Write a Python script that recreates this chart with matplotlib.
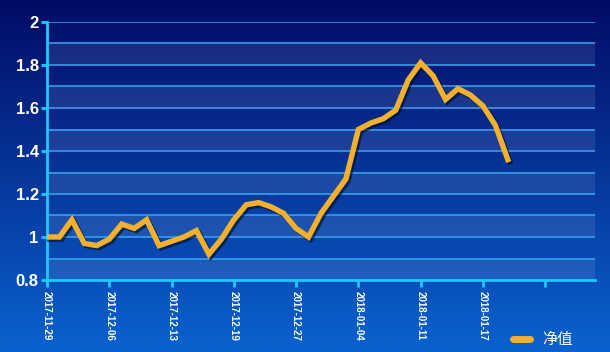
import matplotlib
matplotlib.use("Agg")
import matplotlib.pyplot as plt
import matplotlib.patheffects as pe
import numpy as np

plt.rcParams['font.family'] = ['Liberation Sans', 'Noto Sans CJK SC', 'DejaVu Sans']

# net value series (one point per trading day)
values = [1.00, 1.00, 1.08, 0.97, 0.96, 0.99, 1.06, 1.04, 1.08, 0.96,
          0.98, 1.00, 1.03, 0.92, 0.99, 1.08, 1.15, 1.16, 1.14, 1.11,
          1.04, 1.00, 1.11, 1.19, 1.27, 1.50, 1.53, 1.55, 1.59, 1.73,
          1.81, 1.75, 1.64, 1.69, 1.66, 1.61, 1.52, 1.36]
tick_labels = ["2017-11-29", "2017-12-06", "2017-12-13", "2017-12-19",
               "2017-12-27", "2018-01-04", "2018-01-11", "2018-01-17", ""]
n_slots = 45
series_name = "净值"

fig = plt.figure(figsize=(6.1, 3.52), dpi=100)

# gradient background
bg = fig.add_axes([0, 0, 1, 1], zorder=0)
grad = np.linspace(0, 1, 256).reshape(-1, 1)
cmap = matplotlib.colors.LinearSegmentedColormap.from_list("bg", ["#020b66", "#0a62cf"])
bg.imshow(grad, aspect="auto", cmap=cmap, extent=[0, 1, 0, 1], origin="upper")
bg.axis("off")

ax = fig.add_axes([47 / 610, 1 - 280 / 352, 548 / 610, 258 / 352], zorder=1)
ax.patch.set_alpha(0)

ax.set_xlim(0, n_slots - 1)
ax.set_ylim(0.8, 2.0)

# alternating bands + grid
for k in range(12):
    lo = 0.8 + k * 0.1
    if k % 2 == 0:
        ax.axhspan(lo, lo + 0.1, color="white", alpha=0.09, lw=0, zorder=0)
for k in range(1, 13):
    ax.axhline(0.8 + k * 0.1, color="#3aa6f2", lw=1.1, zorder=1)

x = np.arange(len(values))
line, = ax.plot(x, values, color="#f1b12e", lw=3.9, solid_joinstyle="miter", zorder=3,
                label=series_name,
                path_effects=[pe.SimpleLineShadow(offset=(1.5, -1.5), shadow_color="#000820", alpha=0.6),
                              pe.Normal()])

for s in ["top", "right"]:
    ax.spines[s].set_visible(False)
for s in ["left", "bottom"]:
    ax.spines[s].set_color("#1ec8ff")
    ax.spines[s].set_linewidth(2)

ax.set_yticks(np.arange(0.8, 2.01, 0.2))
ax.set_yticklabels(["0.8", "1", "1.2", "1.4", "1.6", "1.8", "2"])
ax.set_xticks(np.arange(0, 41, 5))
ax.set_xticklabels(tick_labels, rotation=270, fontsize=7, fontweight="bold", color="white")
ax.tick_params(axis="y", colors="#1ec8ff", labelcolor="white", labelsize=12, width=2, length=4, pad=2)
ax.tick_params(axis="x", colors="#1ec8ff", labelcolor="white", width=2, length=5, pad=3)
for t in ax.get_yticklabels():
    t.set_fontweight("bold")

leg = fig.legend(handles=[line], loc="center right", bbox_to_anchor=(580 / 610, 1 - 340 / 352),
                 frameon=False, handlelength=1.1, handletextpad=0.8, fontsize=11,
                 labelcolor="white", borderpad=0)
for h in leg.get_lines():
    h.set_linewidth(5)
    h.set_solid_capstyle("round")
    h.set_path_effects([])

fig.savefig("out.png", dpi=100)
